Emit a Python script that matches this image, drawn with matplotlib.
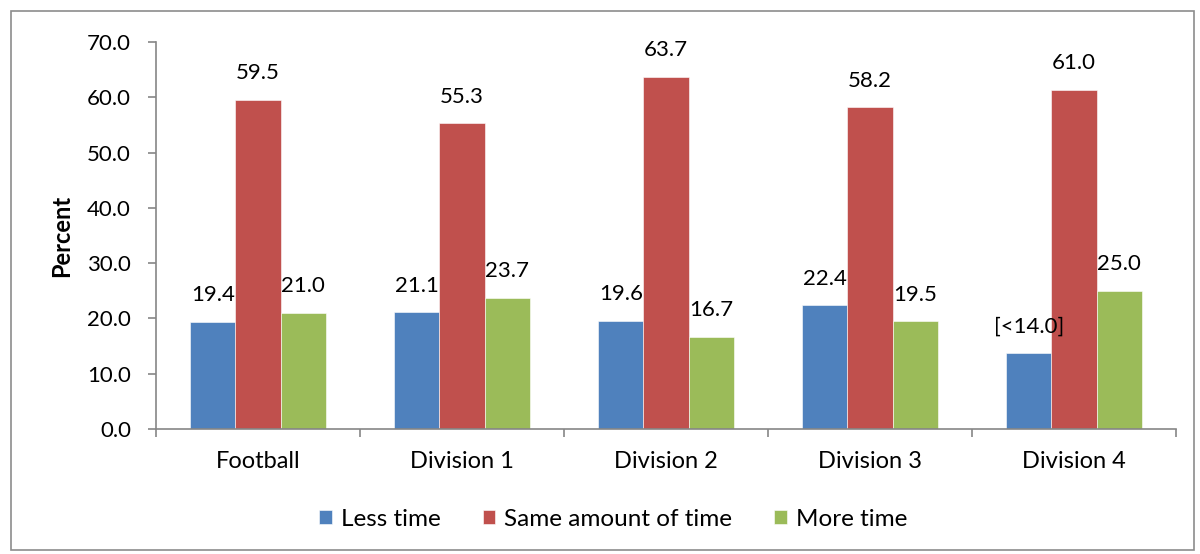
import numpy as np
import matplotlib.pyplot as plt
from matplotlib.patches import Rectangle

# 数据
categories = ["Football", "Division 1", "Division 2", "Division 3", "Division 4"]
series_names = ["Less time", "Same amount of time", "More time"]
less_time = [19.4, 21.1, 19.6, 22.4, 13.7]
same_time = [59.5, 55.3, 63.7, 58.2, 61.4]
more_time = [21.0, 23.7, 16.7, 19.5, 25.0]
less_labels = ["19.4", "21.1", "19.6", "22.4", "[<14.0]"]
same_labels = ["59.5", "55.3", "63.7", "58.2", "61.0"]
more_labels = ["21.0", "23.7", "16.7", "19.5", "25.0"]

colors = ["#4F81BD", "#C0504D", "#9BBB59"]
axis_gray = "#868686"

plt.rcParams['font.family'] = ['Lato', 'DejaVu Sans']

fig = plt.figure(figsize=(12, 5.54), dpi=100)
ax = fig.add_axes([0.13, 0.2256, 0.85, 0.6984])

# 外框
fig.patches.append(Rectangle((0.009, 0.008), 0.986, 0.972, transform=fig.transFigure,
                             fill=False, edgecolor="#8c8c8c", linewidth=1.2))

x = np.arange(len(categories))
width = 0.222
all_values = [less_time, same_time, more_time]
all_labels = [less_labels, same_labels, more_labels]

for i, (vals, labels) in enumerate(zip(all_values, all_labels)):
    offset = width * (i - 1)
    bars = ax.bar(x + offset, vals, width, color=colors[i], label=series_names[i],
                  edgecolor="white", linewidth=0.4, zorder=2)
    ax.bar_label(bars, labels=labels, padding=12, fontsize=16)

ax.set_xlim(-0.5, len(categories) - 0.5)
ax.set_ylim(0, 70)
ax.set_yticks(np.arange(0, 71, 10))
ax.set_yticklabels([f"{v:.1f}" for v in np.arange(0, 71, 10)])
ax.set_xticks(x)
ax.set_xticklabels(categories)
ax.set_xticks(np.arange(-0.5, len(categories), 1), minor=True)
ax.tick_params(axis='x', which='major', length=0, labelsize=17, pad=16)
ax.tick_params(axis='x', which='minor', length=6, color=axis_gray, width=1.2)
ax.tick_params(axis='y', length=6, color=axis_gray, width=1.2, labelsize=16, pad=12)

ax.set_ylabel("Percent", fontsize=17, fontweight='bold', labelpad=10)

for side in ['top', 'right']:
    ax.spines[side].set_visible(False)
for side in ['left', 'bottom']:
    ax.spines[side].set_color(axis_gray)
    ax.spines[side].set_linewidth(1.2)

fig.legend(loc='center', bbox_to_anchor=(0.511, 0.063), ncol=3, frameon=False,
           fontsize=17.5, handlelength=0.5, handleheight=0.5, handletextpad=0.37,
           columnspacing=1.75)

fig.savefig("out.png", dpi=100)
